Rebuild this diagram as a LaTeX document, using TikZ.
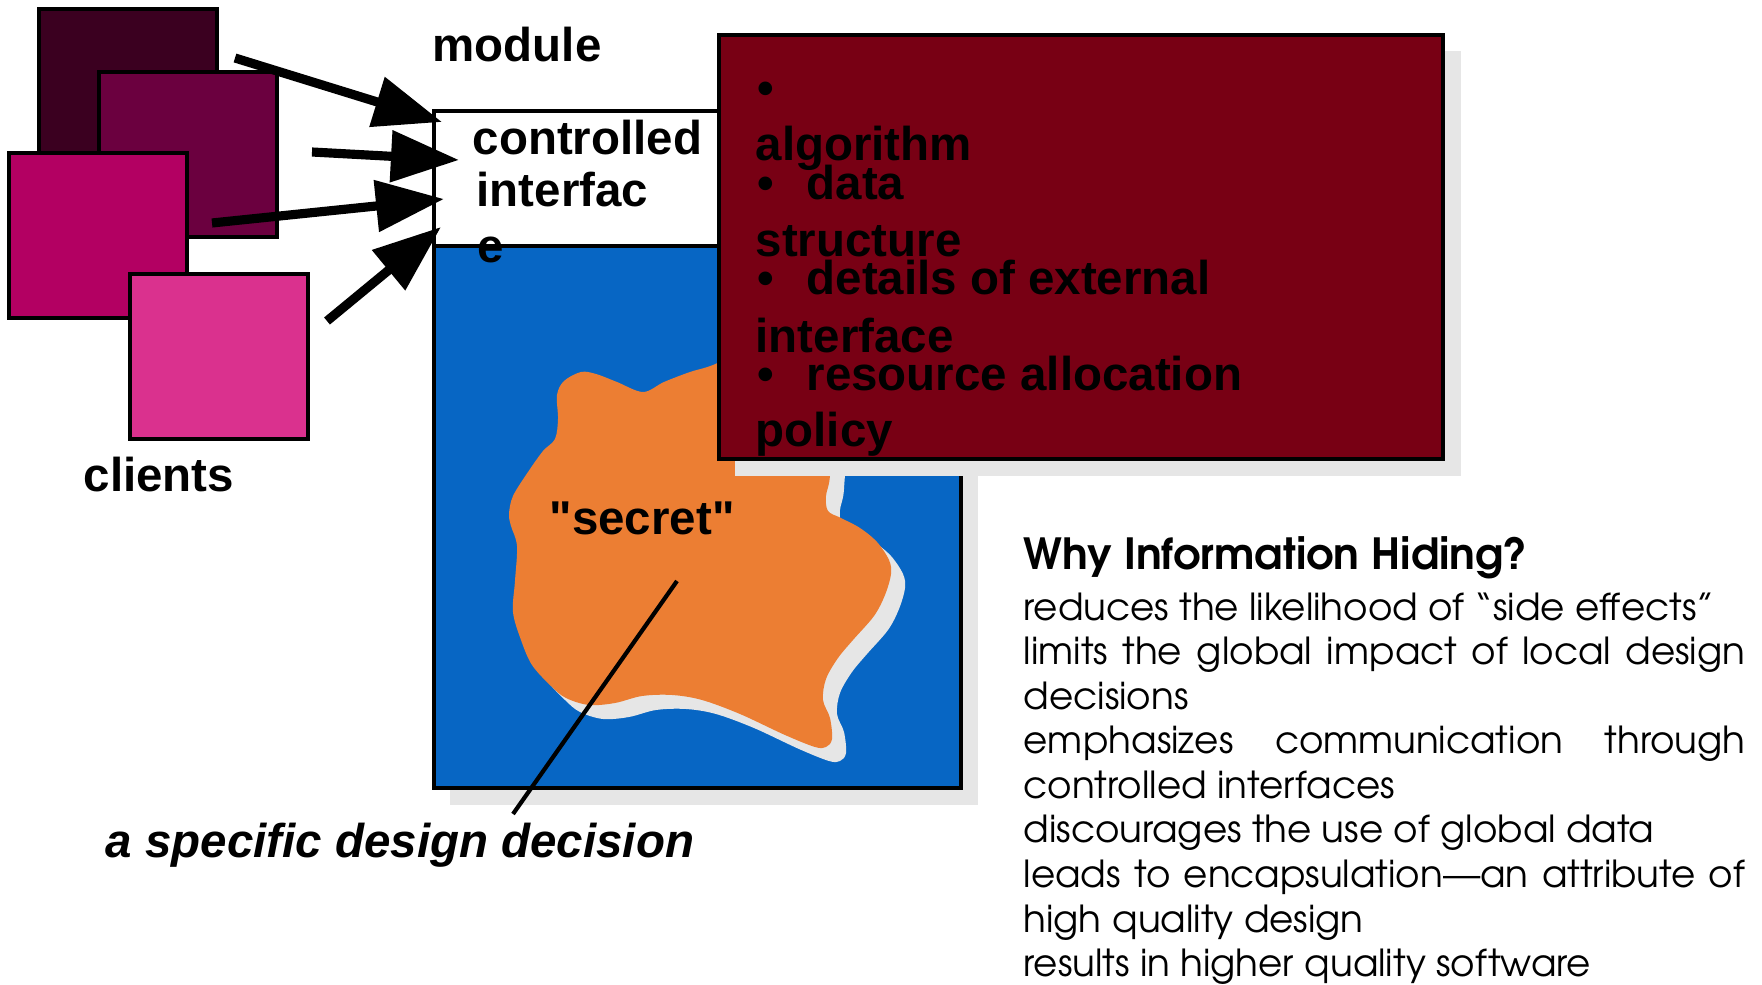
\documentclass[tikz,border=0pt]{standalone}
\usepackage{fontspec}
\setmainfont{Liberation Sans}
\newfontfamily\gothicfont{texgyreadventor}[Extension=.otf, UprightFont=*-regular, BoldFont=*-bold]
\usepackage{tikz}
\usetikzlibrary{arrows.meta}

\definecolor{clientA}{HTML}{3B0020}
\definecolor{clientB}{HTML}{6B003F}
\definecolor{clientC}{HTML}{B30062}
\definecolor{clientD}{HTML}{DA318E}
\definecolor{modblue}{HTML}{0766C4}
\definecolor{secretorange}{HTML}{EC7E33}
\definecolor{hiddenred}{HTML}{780014}
\definecolor{shadowgray}{HTML}{E6E6E6}

\tikzset{
  box/.style={draw, line width=1.3pt},
  lbl/.style={font=\fontsize{13.5}{16}\selectfont\bfseries, anchor=base west, inner sep=0pt},
  feed/.style={line width=2.6pt, -{Triangle[length=0.68cm,width=0.5cm]}},
  why/.style={font=\gothicfont\fontsize{10.6}{12.8}\selectfont, anchor=base west, inner sep=0pt},
}

\begin{document}
\begin{tikzpicture}[x=0.01cm, y=-0.01cm]
    \useasboundingbox (0,0) rectangle (1762,985);

    % module: interface on top, body below
    \fill[shadowgray] (450,262) rectangle (978,805);
    \draw[box, fill=white] (434,111) rectangle (760,246);
    \draw[box, fill=modblue] (434,246) rectangle (961,788);

    % the secret, with its shadow
    \foreach \d/\col in {14/shadowgray, 0/secretorange}
      \fill[\col, shift={(\d,\d)}] plot[smooth cycle, tension=0.55] coordinates {
        (581,372) (596,374) (617,382) (643,392) (664,382) (690,372) (713,365)
        (760,345) (805,370) (830,420) (830,475) (826,496) (828,511) (841,518)
        (860,528) (877,542) (889,560) (891,574) (885,595) (874,616) (853,640)
        (838,658) (826,679) (823,700) (830,718) (832,739) (826,747) (815,747)
        (785,735) (740,714) (702,700) (672,695) (642,696) (615,703) (589,705)
        (566,698) (551,686) (532,665) (521,640) (513,612) (515,581) (517,546)
        (511,526) (509,514) (513,496) (528,472) (543,451) (555,439) (558,419)
        (557,395) (564,381)};

    % what is hidden
    \fill[shadowgray] (735,51) rectangle (1461,476);
    \draw[box, fill=hiddenred] (719,35) rectangle (1443,459);
    \node[lbl] (hid0) at (757,105) {•};
    \node[lbl] (hid1) at (755,161) {algorithm};
    \node[lbl] (hid2) at (757,200) {\makebox[0.49cm][l]{•}data};
    \node[lbl] (hid3) at (755,257) {structure};
    \node[lbl] (hid4) at (757,295) {\makebox[0.49cm][l]{•}details of external};
    \node[lbl] (hid5) at (755,353) {interface};
    \node[lbl] (hid6) at (757,391) {\makebox[0.49cm][l]{•}resource allocation};
    \node[lbl] (hid7) at (755,447) {policy};

    \node[lbl] (ifc1) at (472,155) {controlled};
    \node[lbl] (ifc2) at (476,207) {interfac};
    \node[lbl] (ifc3) at (477,263) {e};
    \node[lbl] (module) at (432,62) {module};
    \node[lbl] (secret) at (549,535) {\addfontfeatures{Ligatures=TeXOff}"secret"};

    \coordinate (secpt) at (677,581);
    \coordinate (decpt) at (513,814);
    \draw[line width=1.2pt] (secpt) -- (decpt);
    \node[lbl, font=\fontsize{13.5}{16}\selectfont\bfseries\itshape] (decision) at (105,857) {a specific design decision};

    % clients
    \foreach \x/\y/\c in {39/9/clientA, 99/72/clientB, 9/153/clientC, 130/274/clientD}
      \draw[box, fill=\c] (\x,\y) rectangle ++(178,165);
    \node[lbl] (clients) at (83,492) {clients};

    \foreach \n/\tx/\ty/\hx/\hy in {1/235/58/442/122, 2/312/152/459/160, 3/212/223/444/199, 4/327/321/441/227}
    {
      \coordinate (tail\n) at (\tx,\ty);
      \coordinate (head\n) at (\hx,\hy);
      \draw[feed] (tail\n) -- (head\n);
    }

    % why
    \node[why, font=\gothicfont\bfseries\fontsize{12.2}{14}\selectfont] (whytitle) at (1023,570) {Why Information Hiding?};
    \foreach \i/\al/\txt in {0/l/{reduces the likelihood of “side effects”},
                            1/s/{limits the global impact of local design},
                            2/l/{decisions},
                            3/s/{emphasizes communication through},
                            4/l/{controlled interfaces},
                            5/l/{discourages the use of global data},
                            6/s/{leads to encapsulation—an attribute of},
                            7/l/{high quality design},
                            8/l/{results in higher quality software}}
      \node[why] (why\i) at (1023,620+44.6*\i) {\makebox[7.21cm][\al]{\txt}};
\end{tikzpicture}
\end{document}
